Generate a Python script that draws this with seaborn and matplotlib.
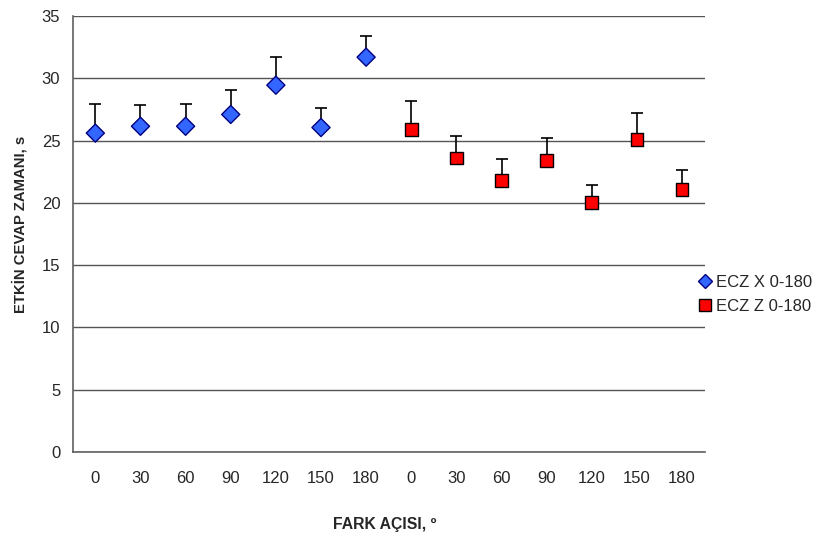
import numpy as np
import pandas as pd
import seaborn as sns
from matplotlib import pyplot as plt
from matplotlib.lines import Line2D

sns.set_style("white")
plt.rcParams["font.family"] = ["Liberation Sans", "DejaVu Sans"]

angles = ["0", "30", "60", "90", "120", "150", "180"]
x_mean = [25.6, 26.15, 26.15, 27.1, 29.45, 26.05, 31.7]
x_err = [2.3, 1.7, 1.75, 1.95, 2.25, 1.55, 1.7]
z_mean = [25.9, 23.6, 21.8, 23.4, 20.05, 25.1, 21.05]
z_err = [2.3, 1.8, 1.7, 1.8, 1.35, 2.1, 1.55]
series = ["ECZ X 0-180", "ECZ Z 0-180"]

df = pd.DataFrame({
  "pos": np.arange(14),
  "val": x_mean + z_mean,
  "err": x_err + z_err,
  "seri": [series[0]] * 7 + [series[1]] * 7,
})

fig = plt.figure(figsize=(8.27, 5.36), dpi=100)
ax = fig.add_axes([0.088, 0.157, 0.764, 0.813])

# only upper error bars
ax.errorbar(df["pos"], df["val"], yerr=[np.zeros(14), df["err"]], fmt="none",
            ecolor="black", elinewidth=1.2, capsize=4, capthick=1.2, zorder=2)

sns.scatterplot(data=df, x="pos", y="val", hue="seri", style="seri",
                palette={series[0]: "#3366FF", series[1]: "#FF0000"},
                markers={series[0]: "D", series[1]: "s"},
                s=85, edgecolor="#000080", linewidth=1, zorder=3, ax=ax, legend=False)
ax.collections[-1].set_edgecolors(["#000080"] * 7 + ["#000000"] * 7)

ax.set_xlim(-0.5, 13.5)
ax.set_ylim(0, 35)
ax.set_yticks(range(0, 36, 5))
ax.set_xticks(np.arange(-0.5, 14, 1))
ax.set_xticklabels([])
ax.set_xticks(np.arange(14), minor=True)
ax.set_xticklabels(angles + angles, minor=True)
ax.tick_params(axis="x", which="minor", length=0, pad=14, labelsize=12)
ax.tick_params(axis="x", which="major", length=5, width=1, color="#606060", direction="out")
ax.tick_params(axis="y", length=5, width=1, color="#606060", direction="out", labelsize=12, pad=4)

ax.grid(axis="y", color="#555555", linewidth=1)
ax.set_axisbelow(True)
for s in ["top", "right"]:
  ax.spines[s].set_visible(False)
for s in ["left", "bottom"]:
  ax.spines[s].set_color("#606060")
  ax.spines[s].set_linewidth(1.2)

ax.set_xlabel("FARK AÇISI, º", fontsize=11.3, fontweight="bold")
ax.set_ylabel("ETKİN CEVAP ZAMANI, s", fontsize=10.7, fontweight="bold")
ax.xaxis.set_label_coords(0.493, -0.149)
ax.yaxis.set_label_coords(-0.072, 0.523)

handles = [
  Line2D([], [], linestyle="none", marker="D", markersize=7, markerfacecolor="#3366FF", markeredgecolor="#000080"),
  Line2D([], [], linestyle="none", marker="s", markersize=9, markerfacecolor="#FF0000", markeredgecolor="#000000"),
]
fig.legend(handles, series, loc="center left", bbox_to_anchor=(0.826, 0.451), frameon=False,
           fontsize=12, handlelength=0.8, handletextpad=0.3, labelspacing=0.55)

plt.savefig("out.png", dpi=100)
